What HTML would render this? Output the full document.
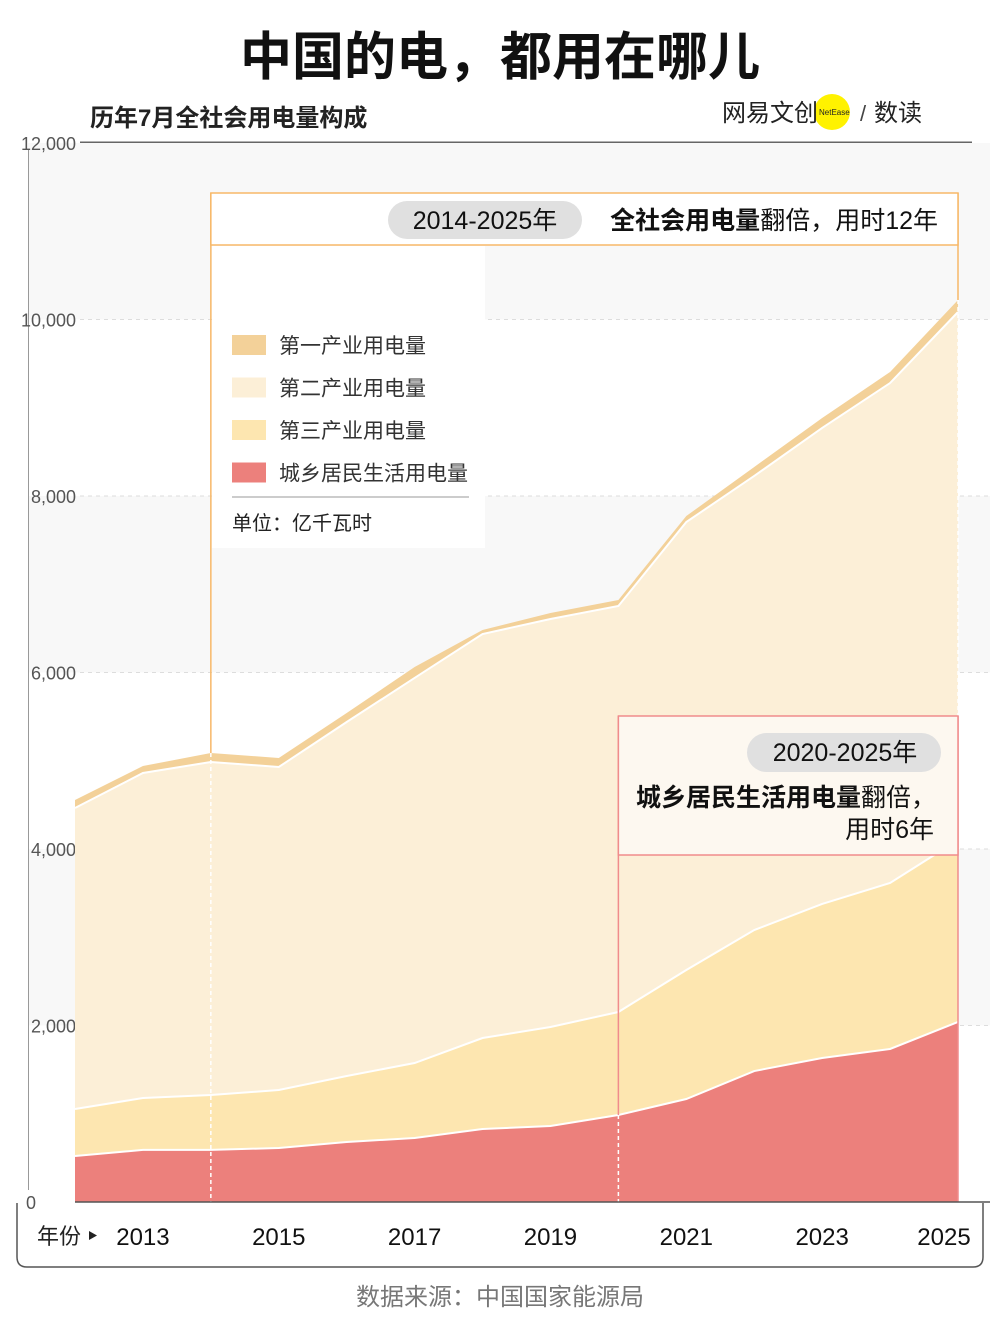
<!DOCTYPE html>
<html><head><meta charset="utf-8"><style>
body{margin:0;background:#fff;width:1000px;height:1333px;overflow:hidden;font-family:"Liberation Sans","Noto Sans CJK SC",sans-serif}
svg text{font-family:"Liberation Sans","Noto Sans CJK SC",sans-serif}
</style></head><body>
<svg id="c" width="1000" height="1333" xmlns="http://www.w3.org/2000/svg">
<text x="500" y="75" text-anchor="middle" font-size="52" font-weight="bold" fill="#111">中国的电，都用在哪儿</text>
<text x="90" y="126" font-size="24" font-weight="bold" fill="#222">历年7月全社会用电量构成</text>
<g>
<circle cx="832" cy="112" r="18" fill="#fff200"/>
<text x="722" y="121" font-size="24" fill="#222">网易文创</text>
<text x="819" y="115" font-size="8" fill="#222">NetEase</text>
<text x="860" y="121" font-size="22" fill="#444">/</text>
<text x="874" y="121" font-size="24" fill="#222">数读</text>
</g>
<line x1="80" y1="142.5" x2="972" y2="142.5" stroke="#666" stroke-width="2"/>
<g id="bands"></g>
<g id="yaxis"></g>
<g id="areas"></g>
<g id="anno"></g>
<path d="M17 1203 L17 1257 Q17 1267 27 1267 L973 1267 Q983 1267 983 1257 L983 1203" fill="none" stroke="#555" stroke-width="1.5"/>
<line x1="75" y1="1202" x2="990" y2="1202" stroke="#555" stroke-width="1.5"/>
<text x="37" y="1244" font-size="22" fill="#222">年份</text>
<path d="M89 1231 L97 1235.5 L89 1240 Z" fill="#222"/>
<g id="xaxis"></g>
<text x="500" y="1305" text-anchor="middle" font-size="24" fill="#777">数据来源：中国国家能源局</text>
</svg>
<script>
const years=[2012,2013,2014,2015,2016,2017,2018,2019,2020,2021,2022,2023,2024,2025];
const residential=[521,590,590,612,680,725,827,861,986,1167,1484,1632,1734,2040];
const tertiary=[533,588,622,657,748,850,1031,1122,1167,1462,1598,1745,1881,2062];
const secondary=[3411,3683,3774,3660,4011,4363,4578,4623,4601,5076,5145,5394,5665,5983];
const primary=[90,79,102,102,102,124,46,68,68,68,102,113,125,136];
const yTicks=[0,2000,4000,6000,8000,10000,12000];
const xTickYears=[2013,2015,2017,2019,2021,2023,2025];
const NS='http://www.w3.org/2000/svg';
const X=y=>75+(y-2012)*(958-75)/13;
const Y=v=>1202-v*(1202-143)/12000;
function mk(t,a,p){const e=document.createElementNS(NS,t);for(const k in a)e.setAttribute(k,a[k]);p.appendChild(e);return e;}
const bands=document.getElementById('bands'),ya=document.getElementById('yaxis'),ar=document.getElementById('areas'),an=document.getElementById('anno'),xa=document.getElementById('xaxis');
for(let i=0;i<yTicks.length-1;i++){if(i%2===1){const r=mk('rect',{x:28,y:Y(yTicks[i+1]),width:962,height:Y(yTicks[i])-Y(yTicks[i+1]),fill:'#f8f8f8'},bands);}}
mk('line',{x1:28.5,y1:150,x2:28.5,y2:1190,stroke:'#999','stroke-width':1},ya);
yTicks.forEach(v=>{const t=mk('text',{x:v===0?36:76,y:Y(v)+7,'text-anchor':'end','font-size':18,fill:'#555'},ya);t.textContent=v.toLocaleString('en-US');
if(v>0&&v<12000){const l=mk('line',{x1:80,y1:Y(v),x2:990,y2:Y(v),stroke:'#ddd','stroke-dasharray':'4 4'},ya);}});
const layers=[residential,tertiary,secondary,primary],cols=['#ec807c','#fde6b0','#fcefd7','#f3d199'],names=['area-residential','area-tertiary','area-secondary','area-primary'];
let base=years.map(()=>0);const tops=[];
layers.forEach((L,i)=>{const top=base.map((b,j)=>b+L[j]);tops.push(top);
let d='M'+years.map((y,j)=>X(y)+' '+Y(top[j])).join(' L');for(let j=years.length-1;j>=0;j--)d+=' L'+X(years[j])+' '+Y(base[j]);d+='Z';
const p=mk('path',{d:d,fill:cols[i]},ar);base=top;});
tops.slice(0,3).forEach(top=>{mk('polyline',{points:years.map((y,j)=>X(y)+','+Y(top[j])).join(' '),fill:'none',stroke:'#fff','stroke-width':2},ar);});
xTickYears.forEach(y=>{const t=mk('text',{x:y===2025?X(y)-14:X(y),y:1245,'text-anchor':'middle','font-size':24,fill:'#111'},xa);t.textContent=y;});
const i14=years.indexOf(2014),i20=years.indexOf(2020),i25=years.indexOf(2025);
const x14=X(2014),x20=X(2020),x25=X(2025);
mk('line',{x1:x14,y1:Y(tops[3][i14]),x2:x14,y2:1202,stroke:'#fff','stroke-dasharray':'4 3','stroke-width':1.5},an);
mk('line',{x1:x20,y1:Y(residential[i20]),x2:x20,y2:1202,stroke:'#fff','stroke-dasharray':'4 3','stroke-width':1.5},an);
mk('line',{x1:x25,y1:Y(tops[3][i25]),x2:x25,y2:716,stroke:'#fff','stroke-dasharray':'4 3','stroke-width':1.5},an);
mk('line',{x1:x14,y1:193,x2:x14,y2:Y(tops[3][i14]),stroke:'#f7b868','stroke-width':1.5},an);
mk('line',{x1:x25,y1:193,x2:x25,y2:Y(tops[3][i25]),stroke:'#f7b868','stroke-width':1.5},an);
let g=mk('g',{},an);
mk('rect',{x:x14,y:193,width:x25-x14,height:52,fill:'#fff',stroke:'#f7b868','stroke-width':1.5},g);
mk('rect',{x:388,y:201,width:194,height:38,rx:19,fill:'#e0e0e0'},g);
let t=mk('text',{x:485,y:229,'text-anchor':'middle','font-size':25,fill:'#111'},g);t.textContent='2014-2025年';
t=mk('text',{x:938,y:229,'text-anchor':'end','font-size':25,fill:'#111'},g);t.innerHTML='<tspan font-weight="bold">全社会用电量</tspan>翻倍，用时12年';
g=mk('g',{},an);
mk('rect',{x:212,y:246,width:273,height:302,fill:'#fff'},g);
const ln=['第一产业用电量','第二产业用电量','第三产业用电量','城乡居民生活用电量'],lc=['#f3d199','#fcefd7','#fde6b0','#ec807c'];
ln.forEach((n,i)=>{const yy=335+i*42.5;mk('rect',{x:232,y:yy,width:34,height:20,fill:lc[i]},g);const tt=mk('text',{x:279,y:yy+18,'font-size':21,fill:'#333'},g);tt.textContent=n;});
mk('line',{x1:232,y1:497,x2:469,y2:497,stroke:'#bbb','stroke-width':1.5},g);
t=mk('text',{x:232,y:530,'font-size':20,fill:'#222'},g);t.textContent='单位：亿千瓦时';
mk('line',{x1:x20,y1:716,x2:x20,y2:Y(residential[i20]),stroke:'#f08c8c','stroke-width':1.5},an);
mk('line',{x1:x25,y1:716,x2:x25,y2:1202,stroke:'#f08c8c','stroke-width':1.5},an);
g=mk('g',{},an);
mk('rect',{x:x20,y:716,width:x25-x20,height:139,fill:'#fdf8f0',stroke:'#f08c8c','stroke-width':1.5},g);
mk('rect',{x:747,y:733,width:194,height:39,rx:19.5,fill:'#e0e0e0'},g);
t=mk('text',{x:845,y:761,'text-anchor':'middle','font-size':25,fill:'#111'},g);t.textContent='2020-2025年';
t=mk('text',{x:936,y:806,'text-anchor':'end','font-size':25,fill:'#111'},g);t.innerHTML='<tspan font-weight="bold">城乡居民生活用电量</tspan>翻倍，';
t=mk('text',{x:934,y:838,'text-anchor':'end','font-size':25,fill:'#111'},g);t.textContent='用时6年';
</script>
</body></html>
